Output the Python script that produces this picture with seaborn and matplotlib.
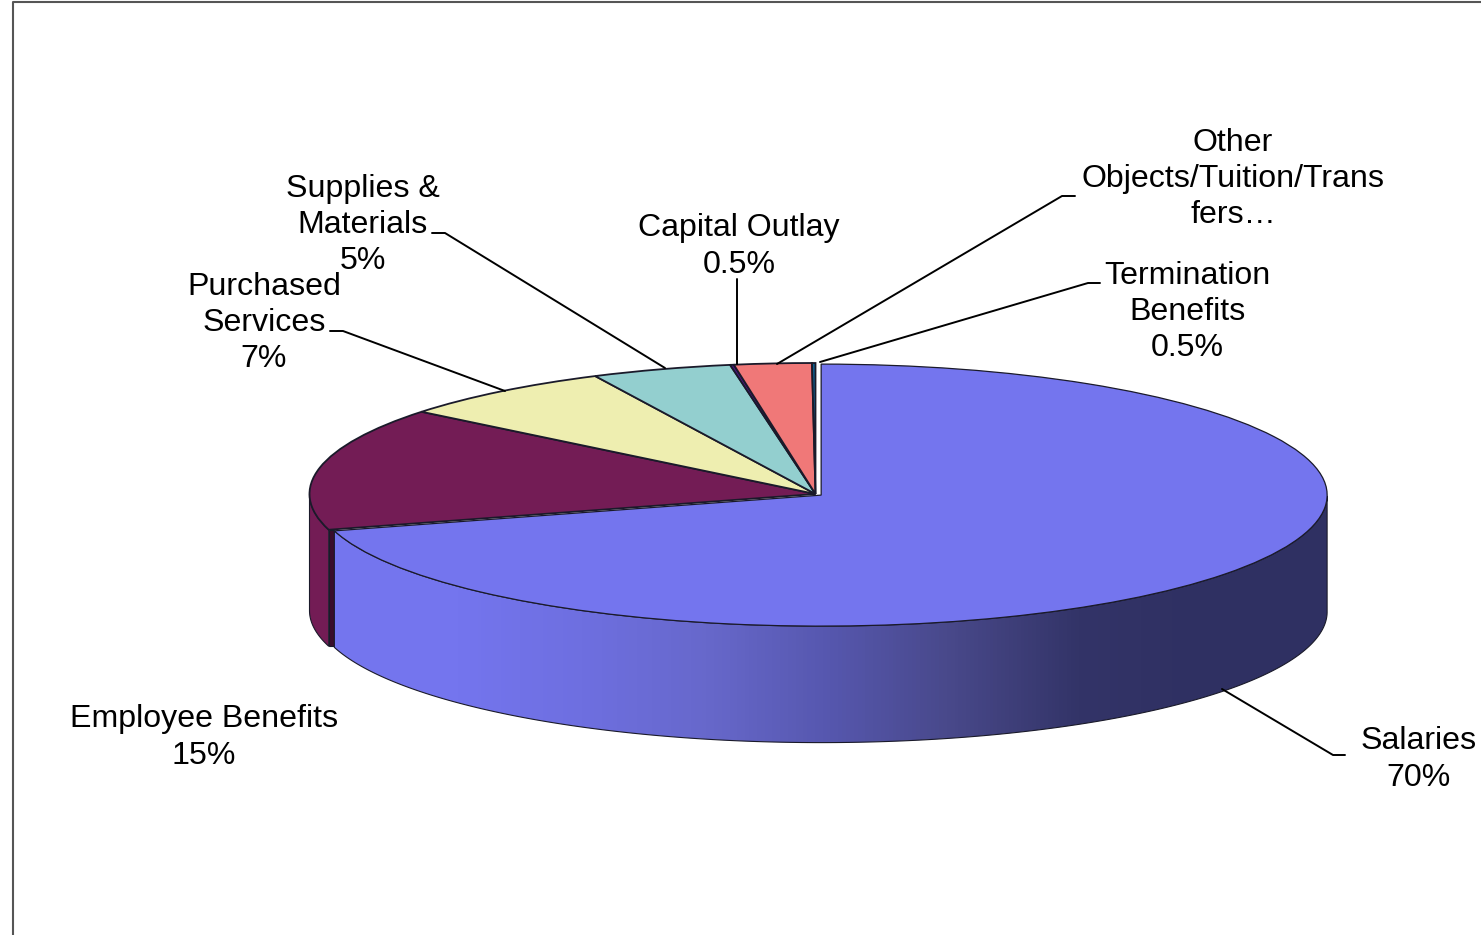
import numpy as np
import matplotlib
matplotlib.use("Agg")
import matplotlib.pyplot as plt
from matplotlib.patches import Polygon
import seaborn as sns

categories = ["Salaries", "Employee Benefits", "Purchased Services", "Supplies & Materials",
              "Capital Outlay", "Other Objects/Tuition/Transfers", "Termination Benefits"]
# slice sizes as they look in the picture, the printed labels are rounded
values = [70.6, 15.2, 7.03, 4.47, 0.12, 2.47, 0.11]
explode = [0.014, 0, 0, 0, 0, 0, 0]
colors = ["#7475EE", "#731C55", "#EEEEB0", "#93CFCF", "#4A1480", "#F07878", "#0F5F8F"]
labels = ["Salaries\n70%", "Employee Benefits\n15%", "Purchased\nServices\n7%",
          "Supplies &\nMaterials\n5%", "Capital Outlay\n0.5%",
          "Other\nObjects/Tuition/Trans\nfers\u2026", "Termination\nBenefits\n0.5%"]

sns.set_theme(style="white")
plt.rcParams['font.family'] = ['Liberation Sans', 'DejaVu Sans']

W, H = 1481, 935
CX, CY, RX, RY = 815.5, 494, 506, 131
DEPTH = 116.5 / RY
EDGE = "#1a1a2a"


def px(x, y):
    # picture pixels to pie units
    return (x - CX) / RX, (CY - y) / RY


fig = plt.figure(figsize=(W / 100, H / 100), dpi=100)
ax = fig.add_axes([0, 0, 1, 1])

wedges, _ = ax.pie(values, colors=colors, explode=explode, startangle=90, counterclock=False,
                   wedgeprops={'edgecolor': EDGE, 'linewidth': 1.3})
ax.set_aspect('auto')
wedges[0].set_linewidth(0.9)


def front_rim(wedge):
    t = np.radians(np.linspace(wedge.theta1, wedge.theta2, 400))
    t = t[np.sin(t) <= 0]
    return wedge.center[0] + np.cos(t), wedge.center[1] + np.sin(t)


def wall_polygon(wedge, facecolor, zorder):
    x, y = front_rim(wedge)
    pts = np.column_stack([np.r_[x, x[::-1]], np.r_[y, y[::-1] - DEPTH]])
    poly = Polygon(pts, closed=True, facecolor=facecolor, edgecolor=EDGE, linewidth=0.8, zorder=zorder)
    ax.add_patch(poly)
    return poly, x


# side wall of the salaries slice, shaded left to right
poly, sx = wall_polygon(wedges[0], "none", 0.6)
shade = sns.blend_palette(["#7475EE", "#7475EE", "#6E6FE0", "#6768CB", "#5657AE",
                           "#484889", "#333468", "#2F3062", "#2F3062"], as_cmap=True)
im = ax.imshow(np.linspace(0, 1, 256)[None, :], cmap=shade, aspect='auto', zorder=0.5,
               extent=[sx.min(), sx.max(), -3, 0])
im.set_clip_path(poly)

# side wall of employee benefits and its dark cut face
ben_poly, bx = wall_polygon(wedges[1], colors[1], 0.3)
bx_rim, by_rim = front_rim(wedges[1])
face_right = sx.min()
i_end = np.argmax(bx_rim)
face_left, face_y = bx_rim[i_end], by_rim[i_end]
ax.add_patch(Polygon([(face_left, face_y), (face_right, face_y),
                      (face_right, face_y - DEPTH), (face_left, face_y - DEPTH)],
                     closed=True, facecolor="#3A0D2B", edgecolor=EDGE, linewidth=0.8, zorder=0.4))

for wedge in wedges:
    wedge.set_zorder(1)

# labels
label_pos = [(1419, 759.5), (204, 737.5), (264, 323), (363, 225), (739, 246.5), (1233, 179), (1187, 312)]
for text, (x, y) in zip(labels, label_pos):
    tx, ty = px(x, y)
    ax.text(tx, ty, text, ha='center', va='center', fontsize=23.1, color='black', linespacing=1.28, zorder=3)

# leader lines
leaders = [
    [(1222, 689), (1333, 755), (1345, 755)],
    [(330, 331), (343, 331), (505, 391)],
    [(432, 233), (445, 233), (665, 368)],
    [(737, 279), (737, 364)],
    [(1075, 196), (1062, 196), (777, 364)],
    [(1100, 283), (1088, 283), (820, 362)],
]
for pts in leaders:
    lx, ly = zip(*[px(x, y) for x, y in pts])
    ax.plot(lx, ly, color='black', lw=1.4, zorder=2)

# outer frame, only top and left are in view
fx, fy = zip(*[px(x, y) for x, y in [(13, H), (13, 2), (W, 2)]])
ax.plot(fx, fy, color='#555555', lw=1.5, zorder=2)

x0, y0 = px(0, H)
x1, y1 = px(W, 0)
ax.set_xlim(x0, x1)
ax.set_ylim(y0, y1)
ax.axis('off')

fig.savefig("out.png", dpi=100, facecolor='white')
plt.close(fig)
